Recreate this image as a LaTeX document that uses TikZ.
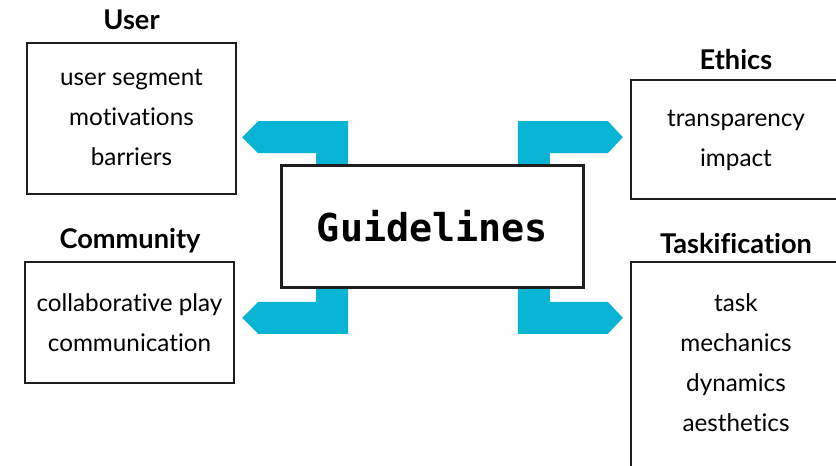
\documentclass[tikz,border=0pt]{standalone}
\usepackage{fontspec}
\setmainfont{Lato}[Ligatures={NoCommon}]
\newfontfamily\guidefont{DejaVu Sans Mono}
\usetikzlibrary{calc}
\definecolor{linkcyan}{RGB}{8,180,212}
\definecolor{boxline}{RGB}{30,30,30}
\begin{document}
\begin{tikzpicture}[x=0.75pt,y=-0.75pt,
  topicbox/.style 2 args={draw=boxline,line width=1.3pt,fill=white,inner sep=0pt,
    minimum width=#1*0.75pt,minimum height=#2*0.75pt},
  itemtext/.style={align=center,font=\fontsize{18.2}{30}\selectfont,inner sep=0pt},
  titletext/.style={font=\fontsize{20.4}{22}\selectfont\bfseries,inner sep=0pt},
  linkfill/.style={fill=linkcyan}]
\useasboundingbox (0,0) rectangle (836,465);
\clip (0,0) rectangle (836,465);

% central node
\node[topicbox={301}{121}] (guide) at (432.5,226.5) {};
\node[font=\guidefont\fontsize{28.8}{30}\selectfont\bfseries,inner sep=0pt] (guidetext) at (guide.center) {Guidelines};

% links from the central node to the four topics
\fill[linkfill] ($(guide.north west)+(35,0)$) -- ++(0,-12) -- ++(-58,0) -- ++(-16,-16) -- ++(16,-16) -- ++(90,0) -- ++(0,44) -- cycle;
\fill[linkfill] ($(guide.north east)+(-34,0)$) -- ++(0,-12) -- ++(58,0) -- ++(15,-16) -- ++(-15,-16) -- ++(-90,0) -- ++(0,44) -- cycle;
\fill[linkfill] ($(guide.south west)+(35,0)$) -- ++(0,14) -- ++(-58,0) -- ++(-16,16) -- ++(16,16) -- ++(90,0) -- ++(0,-46) -- cycle;
\fill[linkfill] ($(guide.south east)+(-34,0)$) -- ++(0,14) -- ++(58,0) -- ++(15,16) -- ++(-15,16) -- ++(-90,0) -- ++(0,-46) -- cycle;
\draw[boxline,line width=1.3pt] (guide.north west) rectangle (guide.south east);

% topic boxes
\node[topicbox={209}{151}] (user) at (131.5,118.5) {};
\node[itemtext] (usertext) at (131.5,117.5) {user segment\\motivations\\barriers};
\node[titletext] (usertitle) at (131.5,20) {User};

\node[topicbox={209}{121}] (community) at (129.5,322.5) {};
\node[itemtext] (communitytext) at (community.center) {collaborative play\\communication};
\node[titletext] (communitytitle) at (130,241) {Community};

\node[topicbox={210}{119}] (ethics) at (736,139.5) {};
\node[itemtext] (ethicstext) at (736,140) {transparency\\impact};
\node[titletext] (ethicstitle) at (736,59) {Ethics};

\node[topicbox={210}{230}] (task) at (736,377) {};
\node[itemtext] (tasktext) at (736,363) {task\\mechanics\\dynamics\\aesthetics};
\node[titletext] (tasktitle) at (736,243) {Taskification};
\end{tikzpicture}
\end{document}
